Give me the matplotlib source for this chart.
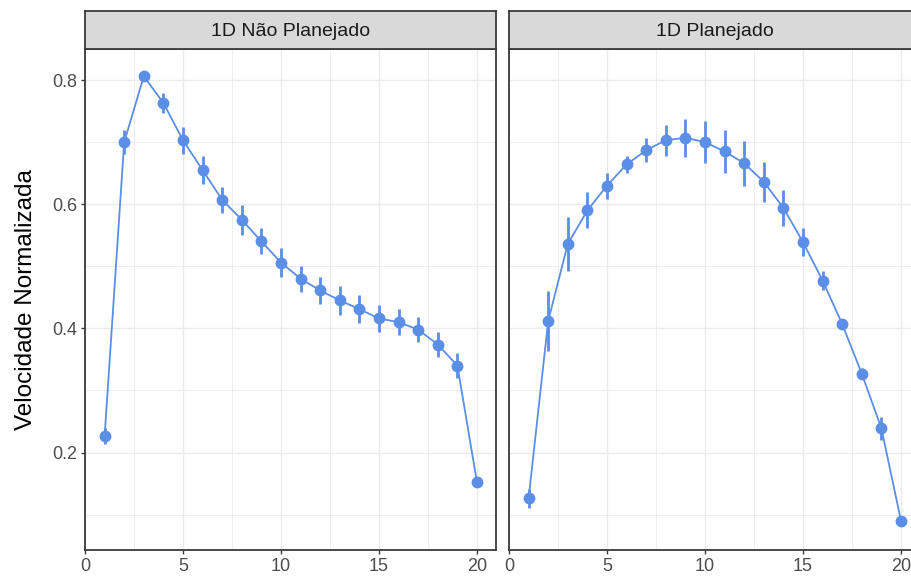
import matplotlib
matplotlib.use("Agg")
import matplotlib.pyplot as plt
from matplotlib.ticker import MultipleLocator
import numpy as np

plt.rcParams['font.family'] = ['Liberation Sans', 'DejaVu Sans']

# ---- data ----
x_vals = list(range(1, 21))
panel_titles = ["1D Não Planejado", "1D Planejado"]

nao_planejado_mean = [0.226, 0.700, 0.806, 0.763, 0.703, 0.655, 0.607, 0.575, 0.540, 0.506,
                      0.480, 0.461, 0.445, 0.431, 0.416, 0.410, 0.398, 0.374, 0.340, 0.152]
nao_planejado_err = [0.013, 0.019, 0.006, 0.016, 0.022, 0.022, 0.021, 0.024, 0.021, 0.023,
                     0.021, 0.022, 0.023, 0.022, 0.022, 0.021, 0.020, 0.020, 0.020, 0.006]

planejado_mean = [0.126, 0.412, 0.536, 0.590, 0.630, 0.664, 0.687, 0.703, 0.707, 0.700,
                  0.685, 0.666, 0.636, 0.594, 0.539, 0.477, 0.407, 0.327, 0.239, 0.090]
planejado_err = [0.016, 0.048, 0.044, 0.029, 0.021, 0.013, 0.019, 0.025, 0.031, 0.034,
                 0.035, 0.036, 0.032, 0.029, 0.023, 0.015, 0.007, 0.009, 0.019, 0.006]

y_label = "Velocidade Normalizada"

# ---- layout ----
W, H = 912, 576
fig = plt.figure(figsize=(W / 100, H / 100), dpi=100)
fig.patch.set_facecolor("white")

color = "#5B8EE6"
border = "#3A3A3A"
grid_col = "#EBEBEB"

panel_px = [(85, 496), (509, 920)]
top_px, bottom_px = 49, 550
strip_top_px = 11

series = [(nao_planejado_mean, nao_planejado_err), (planejado_mean, planejado_err)]

for i, ((x0, x1), (m, e), title) in enumerate(zip(panel_px, series, panel_titles)):
    ax = fig.add_axes([x0 / W, 1 - bottom_px / H, (x1 - x0) / W, (bottom_px - top_px) / H])
    ax.set_xlim(0, 20.97)
    ax.set_ylim(0.043, 0.85)
    ax.xaxis.set_major_locator(MultipleLocator(5))
    ax.xaxis.set_minor_locator(MultipleLocator(2.5))
    ax.yaxis.set_major_locator(MultipleLocator(0.2))
    ax.yaxis.set_minor_locator(MultipleLocator(0.1))
    ax.grid(True, which="major", color=grid_col, linewidth=1.0, zorder=0)
    ax.grid(True, which="minor", color=grid_col, linewidth=0.6, zorder=0)
    ax.set_axisbelow(True)
    for s in ax.spines.values():
        s.set_color(border)
        s.set_linewidth(1.3)
    ax.tick_params(which="minor", length=0)
    ax.tick_params(which="major", length=3.2, width=1.0, color=border,
                   labelsize=13, labelcolor="#4D4D4D", pad=2.5)
    if i == 0:
        ax.yaxis.set_major_formatter(matplotlib.ticker.FuncFormatter(lambda v, p: f"{v:.1f}"))
        ax.set_ylabel(y_label, fontsize=17.5, color="black", labelpad=11)
    else:
        ax.tick_params(axis="y", which="both", left=False, labelleft=False)

    ax.plot(x_vals, m, color=color, linewidth=1.3, zorder=3)
    ax.errorbar(x_vals, m, yerr=e, fmt="o", color=color, ecolor=color,
                elinewidth=2.0, capsize=0, markersize=7.5, zorder=4)

    # strip
    sax = fig.add_axes([x0 / W, 1 - top_px / H, (x1 - x0) / W, (top_px - strip_top_px) / H])
    sax.set_facecolor("#D9D9D9")
    sax.set_xticks([])
    sax.set_yticks([])
    for s in sax.spines.values():
        s.set_color(border)
        s.set_linewidth(1.3)
    sax.text(0.5, 0.47, title, transform=sax.transAxes, ha="center", va="center",
             fontsize=14, color="#1A1A1A")

fig.savefig("out.png", dpi=100)
